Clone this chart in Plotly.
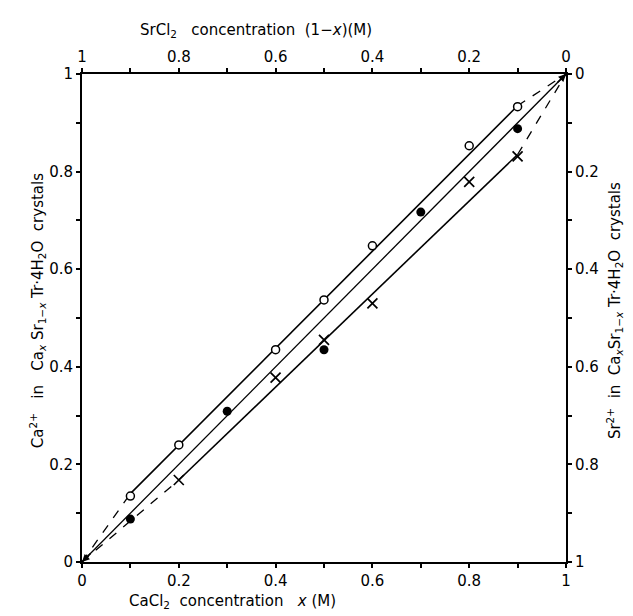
import plotly.graph_objects as go

# Data
open_x = [0.1, 0.2, 0.4, 0.5, 0.6, 0.8, 0.9]
open_y = [0.135, 0.24, 0.435, 0.537, 0.648, 0.853, 0.933]
filled_x = [0.1, 0.3, 0.5, 0.7, 0.9]
filled_y = [0.088, 0.309, 0.435, 0.717, 0.888]
cross_x = [0.2, 0.4, 0.5, 0.6, 0.8, 0.9]
cross_y = [0.168, 0.378, 0.455, 0.53, 0.779, 0.831]

# fitted lines (endpoints)
top_solid_x = [0.1, 0.9]
top_solid_y = [0.14, 0.935]
top_dash_lo_x = [0.0, 0.1]
top_dash_lo_y = [0.0, 0.14]
top_dash_hi_x = [0.9, 1.0]
top_dash_hi_y = [0.935, 1.0]
mid_x = [0.0, 1.0]
mid_y = [0.0, 1.0]
bot_solid_x = [0.2, 0.9]
bot_solid_y = [0.168, 0.835]
bot_dash_lo_x = [0.0, 0.2]
bot_dash_lo_y = [0.0, 0.168]
bot_dash_hi_x = [0.9, 1.0]
bot_dash_hi_y = [0.835, 1.0]

tick_vals = [0.0, 0.1, 0.2, 0.3, 0.4, 0.5, 0.6, 0.7, 0.8, 0.9, 1.0]
tick_text_fwd = ["0", "", "0.2", "", "0.4", "", "0.6", "", "0.8", "", "1"]
tick_text_rev = ["1", "", "0.8", "", "0.6", "", "0.4", "", "0.2", "", "0"]

FONT = "DejaVu Sans"
fig = go.Figure()

def line(x, y, dash="solid", width=1.5):
    fig.add_trace(go.Scatter(x=x, y=y, mode="lines",
                             line=dict(color="black", width=width, dash=dash),
                             hoverinfo="skip", showlegend=False))

line(top_dash_lo_x, top_dash_lo_y, "dash", 1.3)
line(top_solid_x, top_solid_y, "solid", 1.6)
line(top_dash_hi_x, top_dash_hi_y, "dash", 1.3)
line(mid_x, mid_y, "solid", 1.3)
line(bot_dash_lo_x, bot_dash_lo_y, "dash", 1.3)
line(bot_solid_x, bot_solid_y, "solid", 1.6)
line(bot_dash_hi_x, bot_dash_hi_y, "dash", 1.3)

fig.add_trace(go.Scatter(x=open_x, y=open_y, mode="markers",
                         marker=dict(symbol="circle", size=8, color="white",
                                     line=dict(color="black", width=1.5)),
                         showlegend=False))
fig.add_trace(go.Scatter(x=filled_x, y=filled_y, mode="markers",
                         marker=dict(symbol="circle", size=9, color="black"),
                         showlegend=False))
fig.add_trace(go.Scatter(x=cross_x, y=cross_y, mode="markers",
                         marker=dict(symbol="x-thin", size=10,
                                     line=dict(color="black", width=1.7)),
                         showlegend=False))
# dummy trace for secondary axes
fig.add_trace(go.Scatter(x=[None], y=[None], xaxis="x2", yaxis="y2",
                         mode="markers", showlegend=False, hoverinfo="skip"))

axis_common = dict(range=[0, 1], tickvals=tick_vals, ticks="outside", ticklen=4,
                   tickwidth=1.5, tickcolor="black", showline=True, linecolor="black",
                   linewidth=1.8, showgrid=False, zeroline=False,
                   tickfont=dict(family=FONT, size=15, color="black"))

fig.update_layout(
    width=633, height=616,
    margin=dict(l=74, r=75, t=66, b=62),
    paper_bgcolor="white", plot_bgcolor="white",
    xaxis=dict(**axis_common, ticktext=tick_text_fwd, side="bottom", anchor="y"),
    yaxis=dict(**axis_common, ticktext=tick_text_fwd, side="left", anchor="x"),
    xaxis2=dict(**axis_common, ticktext=tick_text_rev, side="top", overlaying="x", anchor="y"),
    yaxis2=dict(**axis_common, ticktext=tick_text_rev, side="right", overlaying="y", anchor="x"),
    font=dict(family=FONT, color="black"),
)

# small arrowheads where the lines meet at the corners
fig.add_annotation(x=mid_x[0], y=mid_y[0], ax=10, ay=-10, text="", showarrow=True,
                   arrowhead=2, arrowsize=1, arrowwidth=1.5, arrowcolor="black")
fig.add_annotation(x=mid_x[1], y=mid_y[1], ax=-10, ay=10, text="", showarrow=True,
                   arrowhead=2, arrowsize=1, arrowwidth=1.5, arrowcolor="black")

TF = dict(family=FONT, size=15, color="black")
fig.add_annotation(text="CaCl<sub>2</sub>  concentration   <i>x</i> (M)",
                   xref="paper", yref="paper", x=0.31, y=-0.08, showarrow=False,
                   xanchor="center", yanchor="middle", font=TF)
fig.add_annotation(text="SrCl<sub>2</sub>   concentration  (1−<i>x</i>)(M)",
                   xref="paper", yref="paper", x=0.36, y=1.09, showarrow=False,
                   xanchor="center", yanchor="middle", font=TF)
fig.add_annotation(text="Ca<sup>2+</sup>   in   Ca<sub><i>x</i></sub> Sr<sub>1−<i>x</i></sub> Tr·4H<sub>2</sub>O  crystals",
                   xref="paper", yref="paper", x=-0.092, y=0.515, showarrow=False,
                   textangle=-90, xanchor="center", yanchor="middle", font=TF)
fig.add_annotation(text="Sr<sup>2+</sup>  in  Ca<sub><i>x</i></sub>Sr<sub>1−<i>x</i></sub> Tr·4H<sub>2</sub>O  crystals",
                   xref="paper", yref="paper", x=1.1, y=0.515, showarrow=False,
                   textangle=-90, xanchor="center", yanchor="middle", font=TF)

fig.write_html("out.html")
